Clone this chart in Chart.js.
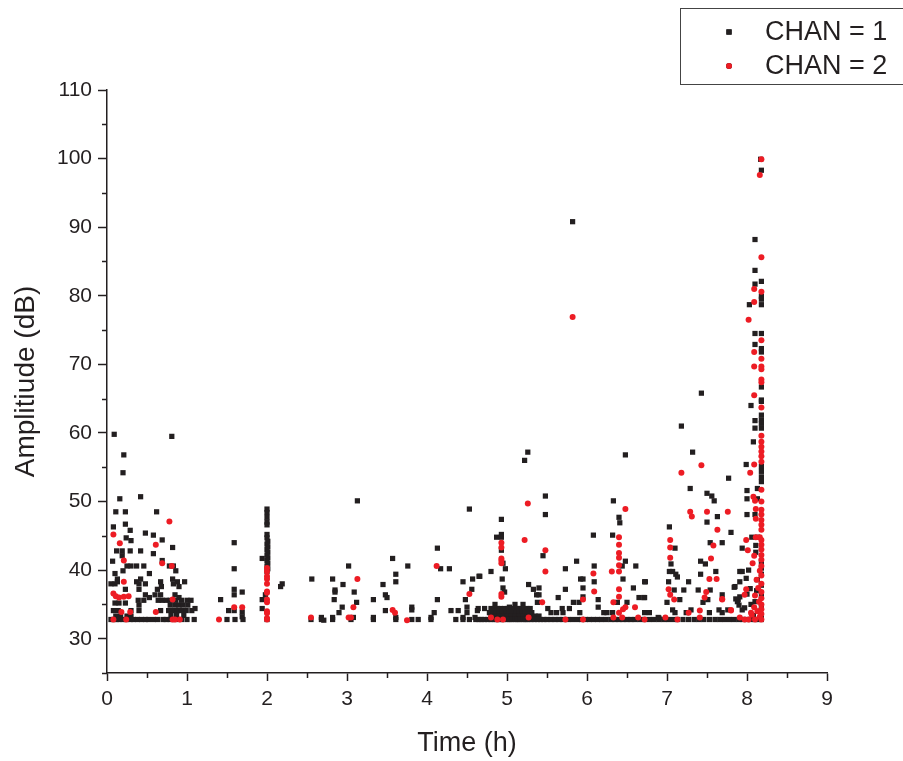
<!DOCTYPE html>
<html>
<head>
<meta charset="utf-8">
<script src="https://cdn.jsdelivr.net/npm/chart.js@4.4.1/dist/chart.umd.min.js"></script>
<style>
  html, body { margin: 0; padding: 0; background: #fff; }
  #wrap { width: 903px; height: 761px; }
</style>
</head>
<body>
<div id="wrap"><canvas id="grafico" width="903" height="761"></canvas></div>
<script>
// Eixos
const timeRange = [0, 9];
const ampRange = [25, 110];
const timeMinorTicks = [0.5, 1.5, 2.5, 3.5, 4.5, 5.5, 6.5, 7.5, 8.5];
const ampMinorTicks = [25, 35, 45, 55, 65, 75, 85, 95, 105];
const legendLabels = ['CHAN = 1', 'CHAN = 2'];

// CHAN = 1 (pontos pretos) [tempo h, amplitude dB]
const chan1Points = [
  // 0 - 1.1 h
  [0.09,59.8],[0.81,59.5],[0.21,56.8],[0.2,54.2],[0.16,50.4],[0.42,50.7],[0.11,48.5],[0.23,48.5],[0.62,48.5],
  [0.08,46.3],[0.23,46.7],[0.29,45.8],[0.48,45.4],[0.58,45.1],[0.24,44.7],[0.3,44.3],[0.69,44.4],[0.82,43.3],
  [0.12,42.8],[0.19,42.8],[0.29,42.8],[0.42,42.8],[0.58,42.4],[0.19,42.1],[0.07,41.3],[0.69,41.4],[0.25,40.6],
  [0.3,40.6],[0.37,40.6],[0.46,40.6],[0.2,39.9],[0.78,40.6],[0.83,40.6],[0.86,39.9],[0.1,39.5],[0.53,39.5],
  [0.13,38.7],[0.13,38.3],[0.42,38.7],[0.67,38.3],[0.82,38.7],[0.88,38.3],[0.97,38.3],[0.05,38.0],[0.1,38.0],
  [0.37,38.3],[0.4,38.0],[0.48,38.0],[0.68,37.6],[0.83,38.0],[0.9,37.6],[0.23,37.2],[0.4,37.2],[0.63,37.2],
  [0.6,36.4],[0.67,36.4],[0.48,36.4],[0.53,36.0],[0.85,36.4],[0.9,36.0],[0.39,35.6],[0.46,35.6],[0.64,35.6],
  [0.69,35.6],[0.74,35.6],[0.79,35.6],[0.86,35.6],[0.93,35.6],[1.0,35.6],[1.05,35.6],[0.1,35.2],[0.15,35.2],
  [0.23,35.2],[0.4,34.9],[0.79,34.9],[0.85,34.9],[0.9,34.9],[0.95,34.9],[1.01,34.9],[0.08,34.1],[0.14,34.1],
  [0.3,34.1],[0.4,34.1],[0.67,34.1],[0.77,34.1],[0.82,34.1],[0.88,34.1],[0.93,34.1],[0.99,34.1],[1.06,34.1],
  [0.11,33.3],[0.17,33.3],[0.25,33.3],[0.3,33.3],[0.8,33.4],[0.87,33.4],[0.96,33.4],
  // 1.1 - 2.2 h
  [1.1,34.4],[1.42,35.7],[1.52,34.1],[1.59,44.0],[1.59,40.2],[1.59,37.2],[1.59,36.4],[1.69,36.8],[1.59,34.1],
  [1.69,33.9],[1.69,33.2],
  [2.0,48.9],[2.0,48.4],[2.0,47.7],[2.0,47.0],[2.0,46.6],[2.0,45.2],[2.0,44.7],[2.01,44.2],[2.0,43.8],[2.01,43.4],
  [2.0,43.0],[2.01,42.6],[2.0,42.2],[2.01,41.8],[1.94,41.7],[2.0,41.4],[2.01,41.0],[2.0,40.6],[2.01,40.2],
  [2.0,39.8],[1.98,36.4],[1.94,35.7],[1.94,34.4],[2.19,38.0],[2.17,37.6],
  // 2.5 - 4.7 h
  [3.13,50.1],[4.53,48.9],[4.13,43.2],[3.57,41.7],[3.02,40.6],[3.76,40.6],[4.17,40.2],[4.28,40.2],[3.61,39.4],
  [2.56,38.7],[2.82,38.7],[3.61,38.3],[2.95,37.9],[3.45,37.9],[4.45,38.3],[4.57,38.7],[4.65,39.1],[2.85,37.1],
  [2.85,36.8],[3.09,36.8],[3.48,36.4],[3.5,36.0],[2.84,35.7],[3.12,35.3],[3.33,35.7],[4.13,35.7],[4.48,35.7],
  [2.94,34.6],[3.81,34.6],[3.81,34.2],[2.9,33.8],[3.48,34.1],[4.09,33.8],[4.3,34.1],[4.39,34.1],[4.5,34.6],
  [4.5,33.8],[4.63,34.1],[2.68,33.1],[2.71,32.7],[2.82,33.1],[3.08,33.1],[3.33,33.1],[3.61,33.1],[4.05,33.1],
  [4.45,33.1],[4.6,33.1],
  // 4.5 - 6.9 h
  [5.26,57.2],[5.22,56.0],[6.48,56.8],[5.82,90.8],[5.48,50.8],[5.48,48.1],[4.93,47.4],[6.33,50.1],[6.4,47.7],
  [6.41,46.9],[4.87,44.8],[4.93,45.2],[4.93,44.8],[6.08,45.1],[6.32,45.1],[4.93,42.9],[4.95,41.0],[5.45,42.1],
  [5.87,41.3],[5.73,40.2],[4.8,39.8],[4.98,40.2],[6.09,40.6],[6.44,40.6],[6.61,40.6],[6.48,41.3],[4.66,39.1],
  [4.94,38.7],[5.92,38.7],[5.95,38.7],[6.09,38.3],[6.45,38.7],[6.73,38.3],[5.27,37.9],[5.4,37.4],[4.95,37.4],
  [5.33,37.2],[5.37,36.4],[5.4,36.4],[5.95,37.4],[6.58,37.4],[4.56,37.2],[4.97,36.8],[5.73,37.2],[5.64,36.0],
  [5.95,36.1],[6.65,36.0],[6.71,36.0],[5.38,35.3],[5.83,35.3],[5.9,35.3],[6.14,35.7],[6.5,35.3],[5.03,34.6],
  [6.14,34.6],[4.64,34.4],[4.72,34.4],[5.51,34.4],[5.55,33.8],[5.62,33.8],[5.69,34.4],[5.7,33.8],[5.78,34.4],
  [5.91,33.8],[6.21,33.8],[6.25,33.8],[6.32,33.8],[6.38,35.3],[6.72,33.8],[6.78,33.8],[6.89,33.1],
  [4.85,35.0],[5.1,35.0],[5.2,35.0],
  [4.8,34.4],[4.84,34.4],[4.88,34.4],[4.92,34.4],[4.97,34.4],[5.01,34.4],[5.05,34.4],[5.09,34.4],[5.13,34.4],
  [5.17,34.4],[5.21,34.4],[5.25,34.4],[5.29,34.4],
  [4.78,33.8],[4.82,33.8],[4.86,33.8],[4.9,33.8],[4.94,33.8],[4.99,33.8],[5.03,33.8],[5.07,33.8],[5.11,33.8],
  [5.15,33.8],[5.19,33.8],[5.23,33.8],[5.27,33.8],[5.31,33.8],
  [4.8,33.3],[4.85,33.3],[4.9,33.3],[4.95,33.3],[5.0,33.3],[5.05,33.3],[5.1,33.3],[5.15,33.3],[5.2,33.3],
  [5.25,33.3],[5.3,33.3],[5.35,33.3],[5.4,33.3],
  // 6.7 - 8.0 h
  [7.43,65.8],[7.18,61.0],[7.32,57.2],[7.77,53.4],[7.29,51.9],[7.5,51.2],[7.56,50.8],[7.59,50.1],[7.63,47.8],
  [7.5,47.0],[7.03,46.3],[7.8,45.5],[7.1,43.2],[7.54,44.0],[7.69,44.0],[7.94,43.2],[7.42,41.3],[7.48,40.9],
  [7.05,40.9],[7.03,39.8],[7.07,39.8],[7.11,39.4],[7.42,39.4],[7.61,39.8],[7.91,39.8],[7.94,39.8],[7.13,39.0],
  [7.27,38.3],[6.72,38.3],[7.02,38.3],[7.91,38.3],[7.99,38.8],[7.39,37.1],[7.54,37.1],[7.21,37.1],[7.09,37.1],
  [7.85,37.6],[7.69,36.4],[7.16,35.7],[6.72,36.0],[7.0,35.3],[7.45,35.3],[7.51,35.7],[7.89,35.7],[7.91,36.1],
  [7.07,34.2],[7.1,33.8],[7.24,33.8],[7.3,34.2],[7.53,33.8],[7.65,34.2],[7.69,33.8],[7.76,34.2],[7.9,34.9],
  [7.94,34.2],[6.9,33.0],[7.84,37.5],[7.86,35.8],[7.88,35.4],
  // 8.0 - 8.2 h
  [8.17,99.9],[8.18,98.3],[8.1,88.2],[8.1,83.7],[8.18,82.1],[8.1,81.7],[8.18,79.9],[8.18,79.5],[8.18,78.7],
  [8.03,78.7],[8.1,74.5],[8.18,74.5],[8.1,72.9],[8.18,72.3],[8.18,71.8],[8.18,66.7],[8.18,64.8],[8.05,64.0],
  [8.18,64.6],[8.18,62.6],[8.18,61.9],[8.18,61.4],[8.18,60.7],[8.1,61.8],[8.1,60.7],[8.08,58.7],[8.18,55.1],
  [8.18,54.4],[8.18,53.6],[8.18,52.9],[7.99,55.4],[8.0,51.6],[8.13,51.9],[8.0,50.4],[8.13,50.4],[8.0,48.1],
  [8.1,48.1],[8.06,44.8],[8.13,44.8],[8.11,43.6],[8.11,42.6],[8.18,41.2],[8.18,40.3],[8.18,39.4],[8.13,38.6],
  [8.18,37.8],[8.12,37.0],[8.18,36.2],[8.1,35.4],[8.18,34.7],[8.14,34.0],[8.08,33.4],[8.18,33.3],[8.02,40.0],
  [8.04,37.3],[8.0,36.5],[7.97,34.5],[8.05,35.0],
  // linha de base ~32.8 dB
  [0.05,32.8],[0.08,32.8],[0.12,32.8],[0.15,32.8],[0.2,32.8],[0.24,32.8],[0.29,32.8],[0.33,32.8],[0.38,32.8],
  [0.43,32.8],[0.48,32.8],[0.52,32.8],[0.58,32.8],[0.63,32.8],[0.7,32.8],[0.74,32.8],[0.79,32.8],[0.86,32.8],
  [0.93,32.8],[1.0,32.8],[1.09,32.8],[1.5,32.8],[1.6,32.8],[1.7,32.8],[2.0,32.8],[2.55,32.8],[2.68,32.8],
  [2.82,32.8],[3.05,32.8],[3.33,32.8],[3.61,32.8],[3.81,32.8],[3.89,32.8],[4.05,32.8],[4.36,32.8],[4.45,32.8],
  [4.53,32.8],[4.61,32.8],[4.65,32.8],[4.68,32.8],[4.72,32.8],[4.76,32.8],[4.8,32.8],[4.84,32.8],[4.87,32.8],
  [4.9,32.8],[4.93,32.8],[4.96,32.8],[5.0,32.8],[5.03,32.8],[5.06,32.8],[5.1,32.8],[5.13,32.8],[5.16,32.8],
  [5.2,32.8],[5.23,32.8],[5.26,32.8],[5.3,32.8],[5.34,32.8],[5.38,32.8],[5.42,32.8],[5.46,32.8],[5.5,32.8],
  [5.55,32.8],[5.6,32.8],[5.65,32.8],[5.7,32.8],[5.76,32.8],[5.82,32.8],[5.88,32.8],[5.93,32.8],[5.98,32.8],
  [6.03,32.8],[6.08,32.8],[6.13,32.8],[6.18,32.8],[6.24,32.8],[6.3,32.8],[6.35,32.8],[6.4,32.8],[6.45,32.8],
  [6.5,32.8],[6.55,32.8],[6.6,32.8],[6.66,32.8],[6.72,32.8],[6.78,32.8],[6.84,32.8],[6.9,32.8],[6.96,32.8],
  [7.02,32.8],[7.08,32.8],[7.13,32.8],[7.2,32.8],[7.27,32.8],[7.34,32.8],[7.4,32.8],[7.46,32.8],[7.53,32.8],
  [7.6,32.8],[7.66,32.8],[7.72,32.8],[7.78,32.8],[7.84,32.8],[7.9,32.8],[7.95,32.8],[8.0,32.8],[8.05,32.8],
  [8.1,32.8],[8.14,32.8],[8.18,32.8]
];

// CHAN = 2 (pontos vermelhos)
const chan2Points = [
  // 0 - 1.1 h
  [0.78,47.1],[0.08,45.2],[0.16,43.9],[0.61,43.7],[0.21,41.4],[0.69,41.0],[0.81,40.6],[0.21,38.3],[0.08,36.6],
  [0.11,36.2],[0.15,36.0],[0.21,36.1],[0.27,36.2],[0.82,35.7],[0.18,33.9],[0.29,33.9],[0.61,33.9],[0.08,32.8],
  [0.24,32.8],[0.82,32.8],[0.85,32.8],[0.91,32.8],
  // 1.4 - 2.0 h
  [1.4,32.8],[1.59,34.6],[1.69,34.6],
  [2.0,40.3],[2.0,39.8],[2.0,39.1],[2.0,38.7],[2.0,38.0],[2.0,36.9],[2.0,36.7],[2.0,35.7],[2.0,35.3],[2.0,34.0],
  [2.0,33.7],[2.0,33.0],[2.0,32.8],
  // 2.5 - 4.6 h
  [3.13,38.7],[4.12,40.6],[4.53,36.5],[3.08,34.6],[3.57,34.2],[3.6,33.8],[2.55,33.1],[3.02,33.1],[3.05,33.1],
  [3.75,32.7],
  // 4.5 - 6.9 h
  [5.82,76.9],[5.26,49.7],[6.48,48.9],[5.22,44.4],[5.48,42.9],[4.93,44.0],[4.93,43.3],[4.93,41.7],[4.93,41.4],
  [4.93,41.0],[5.48,39.8],[6.4,44.8],[6.4,43.7],[6.4,42.5],[6.4,41.8],[6.4,40.7],[6.4,39.8],[6.31,39.8],
  [6.08,39.5],[6.09,36.9],[4.93,36.5],[4.93,36.1],[5.44,35.3],[5.95,35.7],[6.4,37.2],[6.4,36.1],[6.33,35.3],
  [6.48,34.6],[6.45,34.3],[6.6,34.6],[6.4,33.8],[4.8,33.1],[4.88,32.8],[4.95,32.8],[5.27,33.1],[5.73,32.8],
  [5.95,32.8],[6.33,33.1],[6.44,33.1],[6.64,33.1],[6.72,32.8],
  // 6.9 - 8.05 h
  [7.18,54.2],[7.43,55.3],[7.29,48.5],[7.31,47.8],[7.5,48.5],[7.76,48.5],[7.63,45.9],[7.04,44.4],[7.04,43.3],
  [7.04,41.8],[7.58,43.6],[7.55,41.7],[7.99,44.4],[8.01,42.9],[7.53,38.7],[7.62,38.7],[7.02,37.2],[7.04,36.4],
  [7.09,35.7],[7.49,36.8],[7.47,36.0],[7.69,35.7],[7.99,37.2],[7.97,36.4],[7.8,34.1],[7.41,34.1],[7.27,33.8],
  [6.98,33.1],[7.13,32.8],[7.41,33.1],[7.91,33.1],[7.97,32.8],
  // 8.0 - 8.2 h
  [8.18,99.9],[8.16,97.6],[8.18,85.6],[8.09,81.0],[8.18,80.6],[8.09,79.1],[8.02,76.5],[8.18,73.5],[8.09,71.8],
  [8.18,70.8],[8.09,69.7],[8.18,69.7],[8.18,69.3],[8.18,67.8],[8.18,67.4],[8.09,65.5],[8.18,63.7],
  [8.18,59.6],[8.18,58.7],[8.18,58.0],[8.18,57.3],[8.18,56.6],[8.18,55.8],[8.09,55.4],[8.04,54.2],[8.18,51.7],
  [8.08,50.7],[8.1,50.1],[8.18,50.0],[8.18,48.8],[8.18,48.1],[8.18,47.3],[8.18,46.6],[8.18,45.9],[8.11,47.5],
  [8.11,48.9],[8.11,44.8],[8.16,44.8],[8.18,44.4],[8.18,43.7],[8.18,43.0],[8.18,42.2],[8.18,41.5],[8.09,42.1],
  [8.07,41.0],[8.18,40.6],[8.16,39.9],[8.18,39.2],[8.12,38.6],[8.18,38.0],[8.14,37.4],[8.18,36.8],[8.1,36.3],
  [8.18,35.9],[8.15,35.4],[8.18,35.0],[8.09,34.6],[8.18,34.3],[8.13,34.0],[8.18,33.6],[8.06,33.5],[8.16,33.2],
  [8.18,32.8],[8.1,32.8],[8.02,32.8],[8.05,33.8],[7.69,35.8],[7.8,34.2]
];

const COR_TEXTO = '#231f20';
const COR_CHAN1 = '#231f20';
const COR_CHAN2 = '#ed1c24';
const FONTE = 'Liberation Sans, Arial, sans-serif';

// Marcas menores dos eixos
const marcasMenores = {
  id: 'marcasMenores',
  afterDraw(chart) {
    const ctx = chart.ctx;
    const sx = chart.scales.x, sy = chart.scales.y;
    ctx.save();
    ctx.strokeStyle = COR_TEXTO;
    ctx.lineWidth = 1.5;
    ctx.beginPath();
    timeMinorTicks.forEach(v => {
      const px = Math.round(sx.getPixelForValue(v)) + 0.5;
      ctx.moveTo(px, sx.top);
      ctx.lineTo(px, sx.top + 5);
    });
    ampMinorTicks.forEach(v => {
      const py = Math.round(sy.getPixelForValue(v)) + 0.5;
      ctx.moveTo(sy.right, py);
      ctx.lineTo(sy.right - 5, py);
    });
    ctx.stroke();
    ctx.restore();
  }
};

// Legenda com caixa, no canto superior direito
const legendaCaixa = {
  id: 'legendaCaixa',
  afterDraw(chart) {
    const ctx = chart.ctx;
    ctx.save();
    ctx.strokeStyle = '#444';
    ctx.lineWidth = 1;
    ctx.strokeRect(680.5, 8.5, 240, 76);
    const linhas = [32, 66];
    chart.data.datasets.forEach((ds, i) => {
      Chart.helpers.drawPoint(ctx, {
        pointStyle: ds.pointStyle, radius: ds.pointRadius, borderWidth: 0
      }, 729, linhas[i]);
      ctx.fillStyle = ds.backgroundColor;
      ctx.fill();
      ctx.fillStyle = COR_TEXTO;
      ctx.font = '27px ' + FONTE;
      ctx.textBaseline = 'middle';
      ctx.textAlign = 'left';
      ctx.fillText(ds.label, 765, linhas[i] + 1);
    });
    ctx.restore();
  }
};

const ctx = document.getElementById('grafico');
new Chart(ctx, {
  type: 'scatter',
  data: {
    datasets: [
      {
        label: legendLabels[0],
        data: chan1Points.map(p => ({ x: p[0], y: p[1] })),
        pointStyle: 'rect',
        pointRadius: 3.7,
        pointBorderWidth: 0,
        backgroundColor: COR_CHAN1,
        borderColor: COR_CHAN1,
        order: 1
      },
      {
        label: legendLabels[1],
        data: chan2Points.map(p => ({ x: p[0], y: p[1] })),
        pointStyle: 'circle',
        pointRadius: 3,
        pointBorderWidth: 0,
        backgroundColor: COR_CHAN2,
        borderColor: COR_CHAN2,
        order: 0
      }
    ]
  },
  options: {
    responsive: false,
    animation: false,
    devicePixelRatio: 1,
    events: [],
    layout: { padding: { top: 90, right: 76, left: 0, bottom: 0 } },
    plugins: { legend: { display: false }, tooltip: { enabled: false } },
    scales: {
      x: {
        type: 'linear',
        min: timeRange[0], max: timeRange[1],
        afterFit: s => { s.height = 88; },
        border: { display: true, color: COR_TEXTO, width: 1.5 },
        grid: { display: true, drawOnChartArea: false, drawTicks: true, tickLength: 8, tickColor: COR_TEXTO, tickWidth: 1.5 },
        ticks: { stepSize: 1, color: COR_TEXTO, font: { family: FONTE, size: 21 }, padding: 6, maxRotation: 0 },
        title: { display: true, text: 'Time (h)', color: COR_TEXTO, font: { family: FONTE, size: 27 }, padding: { top: 0, bottom: 1 } }
      },
      y: {
        type: 'linear',
        min: ampRange[0], max: ampRange[1],
        afterFit: s => { s.width = 107; },
        border: { display: true, color: COR_TEXTO, width: 1.5 },
        grid: {
          display: true, drawOnChartArea: false, drawTicks: true, tickLength: 9, tickWidth: 1.5,
          tickColor: c => (c.tick && c.tick.value % 10 === 0) ? COR_TEXTO : 'rgba(0,0,0,0)'
        },
        ticks: {
          stepSize: 10, color: COR_TEXTO, font: { family: FONTE, size: 21 }, padding: 6,
          callback: v => (v % 10 === 0 ? v : '')
        },
        title: { display: true, text: 'Amplitiude (dB)', color: COR_TEXTO, font: { family: FONTE, size: 28 }, padding: { top: 9, bottom: 0 } }
      }
    }
  },
  plugins: [marcasMenores, legendaCaixa]
});
</script>
</body>
</html>
